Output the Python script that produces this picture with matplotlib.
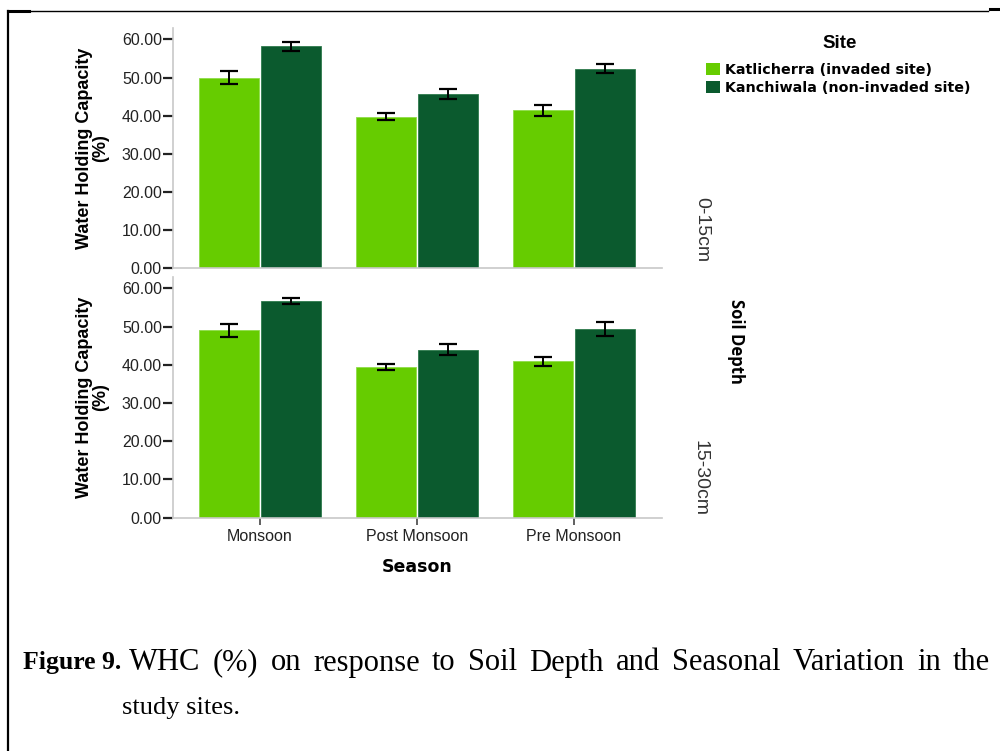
import matplotlib
matplotlib.use("Agg")
import matplotlib.pyplot as plt
from matplotlib.patches import Patch
from matplotlib.lines import Line2D
import numpy as np

seasons = ["Monsoon", "Post Monsoon", "Pre Monsoon"]
sites = ["Katlicherra (invaded site)", "Kanchiwala (non-invaded site)"]
depths = ["0-15cm", "15-30cm"]

# 0-15 cm depth
kat_0_15 = [50.0, 39.7, 41.4]
kan_0_15 = [58.2, 45.7, 52.3]
kat_0_15_err = [1.7, 0.9, 1.4]
kan_0_15_err = [1.2, 1.4, 1.2]

# 15-30 cm depth
kat_15_30 = [49.0, 39.4, 40.9]
kan_15_30 = [56.7, 44.0, 49.3]
kat_15_30_err = [1.8, 0.7, 1.2]
kan_15_30_err = [0.9, 1.5, 1.8]

yticks = [0, 10, 20, 30, 40, 50, 60]

caption_bold = "Figure 9."
caption_line1 = "WHC (%) on response to Soil Depth and Seasonal Variation in the"
caption_line2 = "study sites."

light = "#66cc00"
dark = "#0b5a2e"
spine_col = "#c8c8c8"

plt.rcParams['font.family'] = ['Liberation Sans', 'DejaVu Sans']

fig = plt.figure(figsize=(10, 7.51), dpi=100)
ax1 = fig.add_axes([0.173, 0.6431, 0.489, 0.3196])
ax2 = fig.add_axes([0.173, 0.3107, 0.489, 0.3205])

x = np.arange(len(seasons))
w = 0.382
panels = [(ax1, kat_0_15, kan_0_15, kat_0_15_err, kan_0_15_err),
          (ax2, kat_15_30, kan_15_30, kat_15_30_err, kan_15_30_err)]
for ax, a, b, ea, eb in panels:
    ax.bar(x - w/2 - 0.006, a, width=w, color=light, edgecolor='#8fdc4a', linewidth=0.6, zorder=2)
    ax.bar(x + w/2 + 0.006, b, width=w, color=dark, edgecolor='#2f7a4c', linewidth=0.6, zorder=2)
    ax.errorbar(x - w/2 - 0.006, a, yerr=ea, fmt='none', ecolor='black', elinewidth=1.4,
                capsize=6.8, capthick=1.6, zorder=3)
    ax.errorbar(x + w/2 + 0.006, b, yerr=eb, fmt='none', ecolor='black', elinewidth=1.4,
                capsize=6.8, capthick=1.6, zorder=3)
    ax.set_xlim(-0.554, 2.56)
    ax.set_ylim(0, 63)
    ax.set_yticks(yticks)
    ax.set_yticklabels([f"{v:.2f}" for v in yticks], fontsize=11.5, color='#222222')
    for s in ['top', 'right']:
        ax.spines[s].set_visible(False)
    ax.spines['left'].set_color(spine_col)
    ax.spines['bottom'].set_color(spine_col)
    ax.spines['left'].set_linewidth(1.2)
    ax.spines['bottom'].set_linewidth(1.2)
    ax.tick_params(axis='y', length=7, width=1.6, color='#222222', pad=1)
    ax.set_ylabel("Water Holding Capacity\n(%)", fontsize=13, fontweight='bold',
                  linespacing=0.92, labelpad=9)

ax1.set_xticks([])
ax2.set_xticks(x)
ax2.set_xticklabels(seasons, fontsize=11.5, color='#222222')
ax2.tick_params(axis='x', length=5, width=1.2, color='#444444', pad=3)
ax2.set_xlabel("Season", fontsize=12.5, fontweight='bold', labelpad=10,
               family=['DejaVu Sans'])

# facet labels
fig.text(0.702, 1 - 230/751, depths[0], rotation=-90, fontsize=14, ha='center', va='center',
         color='#333333')
fig.text(0.700, 1 - 478/751, depths[1], rotation=-90, fontsize=14, ha='center', va='center',
         color='#333333')
fig.text(0.736, 1 - 341/751, "Soil Depth", rotation=-90, fontsize=12, fontweight='bold',
         ha='center', va='center', family=['Open Sans', 'DejaVu Sans'])

# legend
fig.text(0.840, 1 - 43/751, "Site", fontsize=13.5, fontweight='bold', ha='center', va='center')
handles = [Patch(facecolor=light, edgecolor='none'), Patch(facecolor=dark, edgecolor='none')]
leg = fig.legend(handles, sites, loc='upper left', bbox_to_anchor=(0.706, 1 - 63/751),
                 frameon=False,
                 prop={'weight': 'bold', 'size': 10.3, 'family': 'DejaVu Sans'},
                 handlelength=0.95, handleheight=0.95, handletextpad=0.35, labelspacing=0.25,
                 borderpad=0, borderaxespad=0)

# caption (justified first line)
fig.canvas.draw()
renderer = fig.canvas.get_renderer()
W = fig.bbox.width
y1 = 1 - 663/751
y2 = 1 - 708/751
fs = 22
t1 = fig.text(23/W, y1, caption_bold, fontsize=18.5, va='center', ha='left',
              fontweight='bold', family=['Liberation Serif'])
bb = t1.get_window_extent(renderer=renderer)
words = caption_line1.split()
tmp = [fig.text(0, 0, wd, fontsize=fs, family=['Liberation Serif']) for wd in words]
widths = [t.get_window_extent(renderer=renderer).width for t in tmp]
for t in tmp:
    t.remove()
start = bb.x1 + 8
end = 990
gap = (end - start - sum(widths)) / (len(words) - 1)
xpos = start
for wd, wdt in zip(words, widths):
    fig.text(xpos / W, y1, wd, fontsize=fs, va='center', ha='left', family=['Liberation Serif'])
    xpos += wdt + gap
fig.text(122/W, y2, caption_line2, fontsize=19, va='center', ha='left',
         family=['Liberation Serif'])

# border lines
fig.add_artist(Line2D([0.008, 0.988], [1 - 10.5/751, 1 - 10.5/751], color='black', lw=1.0,
                      transform=fig.transFigure))
fig.add_artist(Line2D([0.008, 0.008], [1 - 10.5/751, 0], color='black', lw=1.6,
                      transform=fig.transFigure))
fig.add_artist(Line2D([0.008, 0.029], [1 - 11/751, 1 - 11/751], color='black', lw=2.2,
                      transform=fig.transFigure))
fig.add_artist(Line2D([0.990, 1.0], [1 - 9/751, 1 - 9/751], color='black', lw=2.2,
                      transform=fig.transFigure))

fig.savefig("out.png", dpi=100)
